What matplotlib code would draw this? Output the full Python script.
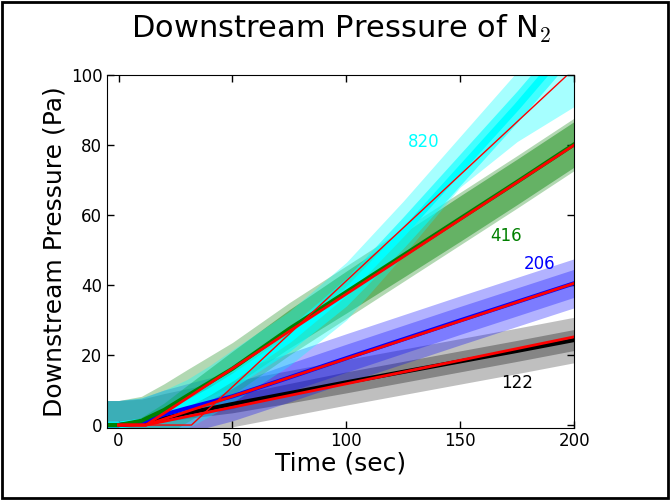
import matplotlib
matplotlib.use("Agg")
import matplotlib.pyplot as plt
from matplotlib.patches import Rectangle
import numpy as np

plt.rcParams['mathtext.fontset'] = 'cm'

# time axis (sec) shared by every run
t = [-10, 0, 10, 20, 30, 40, 50, 75, 100, 125, 150, 175, 200]

# mean downstream pressure (Pa) per upstream pressure
black_mean = [0, 0, 0.4, 2.0, 3.4, 4.7, 6.0, 9.1, 12.2, 15.2, 18.2, 21.2, 24.3]
blue_mean = [0, 0, 0.7, 3.0, 4.8, 6.5, 8.2, 13.6, 19.1, 24.5, 29.9, 35.2, 40.5]
green_mean = [0, 0, 1.2, 4.3, 8.3, 12.2, 16.1, 27.5, 38.0, 48.5, 59.0, 69.5, 80.2]
cyan_mean = [0, 0, 0.8, 3.0, 6.0, 9.5, 13.5, 24.5, 38.0, 55.0, 73.0, 91.0, 110.0]

# uncertainty half-widths (outer / inner)
black_outer = [7, 7, 7, 7, 7, 7, 6.5, 6.5, 6.5, 6.5, 6.5, 6.5, 6.5]
black_inner = [0, 0, 0.5, 1, 1.5, 2, 2.5, 2.8, 3, 3, 3, 3, 3]
blue_outer = [7, 7, 7, 7, 7, 7, 7, 7, 7, 7, 7, 7, 7]
blue_inner = [0, 0, 0.5, 1.5, 2.5, 3, 3.5, 4, 4, 4, 4, 4, 4]
green_outer = [7, 7, 7, 7.5, 7.5, 7.5, 7.5, 7.5, 7.5, 7.5, 7.5, 7.5, 7.5]
green_inner = [0, 0, 1, 2, 3, 4, 5, 5.5, 6, 6.3, 6.5, 6.5, 6.5]
cyan_lo = [7, 7, 7, 7, 7, 7, 7, 7.5, 8, 6.5, 5, 10, 19]
cyan_hi = [7, 7, 7, 7, 7, 7.5, 8, 8, 8.5, 9, 9.5, 10, 10]
cyan_inner = [0, 0, 1, 1.5, 2, 2.5, 3, 3.5, 4, 4.5, 4.5, 4.5, 4.5]

# linear time-lag fits: lag time, end time, end pressure
fit_lag = [12, 12, 12, 32]
fit_end_t = [200, 200, 200, 197]
fit_end_p = [25.2, 40.5, 80.0, 100.0]
fit_width = [2, 2, 2, 1]

labels = ['122', '206', '416', '820']
label_x = [175, 185, 170, 134]
label_y = [12, 46, 54, 81]
colors = ['k', 'b', 'g', '#00ffff']

means = [black_mean, blue_mean, green_mean, cyan_mean]
lows = [black_outer, blue_outer, green_outer, cyan_lo]
highs = [black_outer, blue_outer, green_outer, cyan_hi]
inners = [black_inner, blue_inner, green_inner, cyan_inner]
outer_alpha = [0.25, 0.3, 0.3, 0.35]
inner_alpha = [0.3, 0.3, 0.43, 0.6]

fig = plt.figure(figsize=(6.7, 5), dpi=100)
ax = fig.add_axes([0.160, 0.145, 0.697, 0.705])

tt = np.array(t)
for m, lo, hi, inn, c, oa, ia in zip(means, lows, highs, inners, colors, outer_alpha, inner_alpha):
    m = np.array(m)
    ax.fill_between(tt, m - np.array(lo), m + np.array(hi), color=c, alpha=oa, lw=0)
    ax.fill_between(tt, m - np.array(inn), m + np.array(inn), color=c, alpha=ia, lw=0)

# cyan mean underneath the others
ax.plot(t, cyan_mean, color=colors[3], lw=5)
for m, c in zip(means[:3], colors[:3]):
    ax.plot(t, m, color=c, lw=3)

for lag, te, pe, w in zip(fit_lag, fit_end_t, fit_end_p, fit_width):
    ax.plot([0, lag, te], [0, 0, pe], color='r', lw=w)

for lab, x, y, c in zip(labels, label_x, label_y, colors):
    ax.text(x, y, lab, color=c, fontsize=12, ha='center', va='center')

ax.set_xlim(-5, 200)
ax.set_ylim(-0.7, 100)
ax.set_xticks([0, 50, 100, 150, 200])
ax.set_yticks([0, 20, 40, 60, 80, 100])
ax.tick_params(direction='in', top=True, right=True, length=5, width=1, labelsize=12)
ax.set_xlabel('Time (sec)', fontsize=18, labelpad=1)
ax.set_ylabel('Downstream Pressure (Pa)', fontsize=18, labelpad=3)
ax.set_title('Downstream Pressure of N$_2$', fontsize=22, pad=27)

fig.patches.append(Rectangle((0.003, 0.004), 0.994, 0.992, transform=fig.transFigure,
                             fill=False, edgecolor='k', lw=2))

fig.savefig('out.png', dpi=100)
